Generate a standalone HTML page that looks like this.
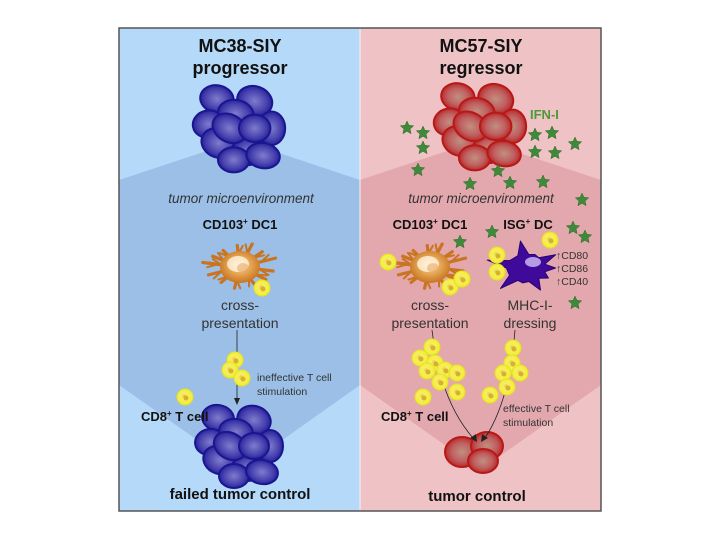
<!DOCTYPE html>
<html><head><meta charset="utf-8"><style>
html,body{margin:0;padding:0;background:#fff;width:720px;height:540px;overflow:hidden}
svg{display:block}
text{font-family:"Liberation Sans",sans-serif}
.b{font-weight:bold}
</style></head><body>
<svg id="s" width="720" height="540" viewBox="0 0 720 540" xmlns="http://www.w3.org/2000/svg">
<defs>
<radialGradient id="gb" cx="50%" cy="50%" r="55%"><stop offset="0" stop-color="#7f7ccc"/><stop offset="0.6" stop-color="#4a45b0"/><stop offset="1" stop-color="#1f1a95"/></radialGradient>
<radialGradient id="gr" cx="50%" cy="50%" r="55%"><stop offset="0" stop-color="#c09080"/><stop offset="0.55" stop-color="#c06060"/><stop offset="1" stop-color="#b81e1e"/></radialGradient>
<radialGradient id="gy" cx="45%" cy="45%" r="60%"><stop offset="0" stop-color="#e8c040"/><stop offset="0.3" stop-color="#f6ee60"/><stop offset="1" stop-color="#f0ee30"/></radialGradient>
<radialGradient id="go" cx="50%" cy="45%" r="55%"><stop offset="0" stop-color="#fff4dc"/><stop offset="0.4" stop-color="#eab060"/><stop offset="1" stop-color="#c87420"/></radialGradient>
</defs>
<rect x="119" y="28" width="241" height="483" fill="#b5d9f8"/>
<rect x="360" y="28" width="241" height="483" fill="#efc3c5"/>
<polygon points="119,180 240,140 360,180 360,385 240,470 119,385" fill="#9bbfe7"/>
<polygon points="360,180 480,140 601,180 601,385 480,470 360,385" fill="#e3a8ad"/>
<line x1="360" y1="28" x2="360" y2="511" stroke="#f4f4f4" stroke-width="1"/>
<rect x="119" y="28" width="482" height="483" fill="none" stroke="#555" stroke-width="1.5"/>
<g id="dyn"></g>
<g fill="#111">
<text x="240" y="52" text-anchor="middle" class="b" font-size="18">MC38-SIY</text>
<text x="240" y="74" text-anchor="middle" class="b" font-size="18">progressor</text>
<text x="481" y="52" text-anchor="middle" class="b" font-size="18">MC57-SIY</text>
<text x="481" y="74" text-anchor="middle" class="b" font-size="18">regressor</text>
<text x="530" y="119" class="b" font-size="13" fill="#4a9a38">IFN-I</text>
<text x="241" y="203" text-anchor="middle" font-style="italic" font-size="13.5" fill="#333">tumor microenvironment</text>
<text x="481" y="203" text-anchor="middle" font-style="italic" font-size="13.5" fill="#333">tumor microenvironment</text>
<text x="240" y="229" text-anchor="middle" class="b" font-size="13">CD103<tspan font-size="8" dy="-5">+</tspan><tspan dy="5"> DC1</tspan></text>
<text x="430" y="229" text-anchor="middle" class="b" font-size="13">CD103<tspan font-size="8" dy="-5">+</tspan><tspan dy="5"> DC1</tspan></text>
<text x="528" y="229" text-anchor="middle" class="b" font-size="13">ISG<tspan font-size="8" dy="-5">+</tspan><tspan dy="5"> DC</tspan></text>
<text x="240" y="310" text-anchor="middle" font-size="14" fill="#333">cross-</text>
<text x="240" y="328" text-anchor="middle" font-size="14" fill="#333">presentation</text>
<text x="430" y="310" text-anchor="middle" font-size="14" fill="#333">cross-</text>
<text x="430" y="328" text-anchor="middle" font-size="14" fill="#333">presentation</text>
<text x="530" y="310" text-anchor="middle" font-size="14" fill="#333">MHC-I-</text>
<text x="530" y="328" text-anchor="middle" font-size="14" fill="#333">dressing</text>
<text x="556" y="259" font-size="10.5" fill="#333">↑CD80</text>
<text x="556" y="272" font-size="10.5" fill="#333">↑CD86</text>
<text x="556" y="285" font-size="10.5" fill="#333">↑CD40</text>
<text x="257" y="381" font-size="10.5" fill="#333">ineffective T cell</text>
<text x="257" y="395" font-size="10.5" fill="#333">stimulation</text>
<text x="503" y="412" font-size="10.5" fill="#333">effective T cell</text>
<text x="503" y="426" font-size="10.5" fill="#333">stimulation</text>
<text x="141" y="421" class="b" font-size="13">CD8<tspan font-size="8" dy="-5">+</tspan><tspan dy="5"> T cell</tspan></text>
<text x="381" y="421" class="b" font-size="13">CD8<tspan font-size="8" dy="-5">+</tspan><tspan dy="5"> T cell</tspan></text>
<text x="240" y="499" text-anchor="middle" class="b" font-size="15">failed tumor control</text>
<text x="477" y="501" text-anchor="middle" class="b" font-size="15">tumor control</text>
</g>
</svg>
<script>
var g=document.getElementById('dyn'),h='';
function el(cx,cy,rx,ry,a,f,st){h+='<ellipse cx="'+cx+'" cy="'+cy+'" rx="'+rx+'" ry="'+ry+'" transform="rotate('+a+' '+cx+' '+cy+')" fill="url(#'+f+')" stroke="'+st+'" stroke-width="2"/>';}
function tumor(ox,oy,f,st,s){var c=[[-22,-22,16,13,10],[14,-20,17,14,20],[-30,2,15,13,-10],[30,6,13,16,0],[-20,20,17,14,20],[8,28,17,13,-10],[-4,-8,17,13,10],[-10,6,17,13,30],[14,6,15,13,0],[-6,36,15,12,0],[22,32,16,12,10]];
c.forEach(function(e){el(ox+e[0]*s,oy+e[1]*s,e[2]*s,e[3]*s,e[4],f,st);});}
tumor(240,122,'gb','#1a1590',1.05);
tumor(240,440,'gb','#1a1590',1.0);
tumor(481,120,'gr','#b81818',1.05);
el(462,452,17,15,0,'gr','#b81818');el(487,446,16,14,0,'gr','#b81818');el(483,461,15,12,0,'gr','#b81818');
// dendritic cells with branches
function dc(cx,cy){var br=[[-170,36],[-150,30],[-125,28],[-95,30],[-70,34],[-45,30],[-20,36],[10,32],[35,30],[60,28],[100,30],[130,28],[160,32],[190,30]];
br.forEach(function(b,i){var a=b[0]*Math.PI/180,r=b[1];var x=cx+r*Math.cos(a)*1.05,yy=cy+r*Math.sin(a)*0.72;
h+='<line x1="'+cx+'" y1="'+cy+'" x2="'+x+'" y2="'+yy+'" stroke="#c87420" stroke-width="3.2" stroke-linecap="round"/>';
var a2=a+(i%2?0.5:-0.5),mx=cx+r*0.6*Math.cos(a)*1.05,my=cy+r*0.6*Math.sin(a)*0.72;
h+='<line x1="'+mx+'" y1="'+my+'" x2="'+(mx+11*Math.cos(a2))+'" y2="'+(my+9*Math.sin(a2))+'" stroke="#c87420" stroke-width="2" stroke-linecap="round"/>';});
h+='<ellipse cx="'+cx+'" cy="'+cy+'" rx="20" ry="16" fill="url(#go)"/>';
h+='<ellipse cx="'+(cx-2)+'" cy="'+(cy-3)+'" rx="11" ry="8" fill="#fff4e0" opacity="0.8"/><ellipse cx="'+(cx+3)+'" cy="'+(cy+1)+'" rx="6" ry="5" fill="#e8a860" opacity="0.6"/>';}
dc(240,267);dc(430,267);
function sp(cx,cy,fill,n,r1,r2,stroke){var p='';for(var i=0;i<n*2;i++){var a=i*Math.PI/n,r=(i%2?r1:r2*(0.8+0.3*Math.sin(i*1.7)));p+=(cx+r*Math.cos(a)*1.15)+','+(cy+r*Math.sin(a)*0.8)+' ';}
h+='<polygon points="'+p+'" fill="'+fill+'" stroke="'+stroke+'" stroke-width="1" stroke-linejoin="round"/>';}
sp(526,268,'#3f0a9a',11,17,32,'#2a0070');h+='<ellipse cx="533" cy="262" rx="8" ry="5" fill="#b59be6"/>';
// arrows
h+='<line x1="237" y1="330" x2="237" y2="400" stroke="#222" stroke-width="0.8"/><polygon points="234,398 240,398 237,405" fill="#222"/>';
h+='<path d="M432 330 Q440 400 473 438" fill="none" stroke="#222" stroke-width="0.8"/><polygon points="470,438 476,434 477,442" fill="#222"/>';
h+='<path d="M515 330 Q510 400 485 438" fill="none" stroke="#222" stroke-width="0.8"/><polygon points="482,434 488,438 481,442" fill="#222"/>';
function y(cx,cy){h+='<circle cx="'+cx+'" cy="'+cy+'" r="8" fill="url(#gy)" stroke="#e8e020" stroke-width="1"/><circle cx="'+(cx+1)+'" cy="'+(cy+1)+'" r="2.5" fill="#d8b030"/>';}
[[262,288],[235,360],[230,370],[242,378],[185,397],[388,262],[450,287],[462,279],[497,255],[497,272],[550,240],
[432,347],[420,358],[435,363],[427,371],[445,370],[457,373],[440,382],[457,392],[423,397],[513,348],[512,363],[503,373],[520,373],[507,387],[490,395]].forEach(function(c){y(c[0],c[1]);});
function star(cx,cy){var p='';for(var i=0;i<10;i++){var a=-Math.PI/2+i*Math.PI/5,r=i%2?3.3:7;p+=(cx+r*Math.cos(a)).toFixed(1)+','+(cy+r*Math.sin(a)).toFixed(1)+' ';}h+='<polygon points="'+p+'" fill="#3f8a3a" stroke="#2e6a2a" stroke-width="0.5"/>';}
[[407,128],[423,133],[423,148],[418,170],[470,184],[498,171],[510,183],[543,182],[535,135],[552,133],[535,152],[555,153],[575,144],[582,200],[492,232],[460,242],[573,228],[585,237],[575,303]].forEach(function(c){star(c[0],c[1]);});
g.innerHTML=h;
</script>
</body></html>
